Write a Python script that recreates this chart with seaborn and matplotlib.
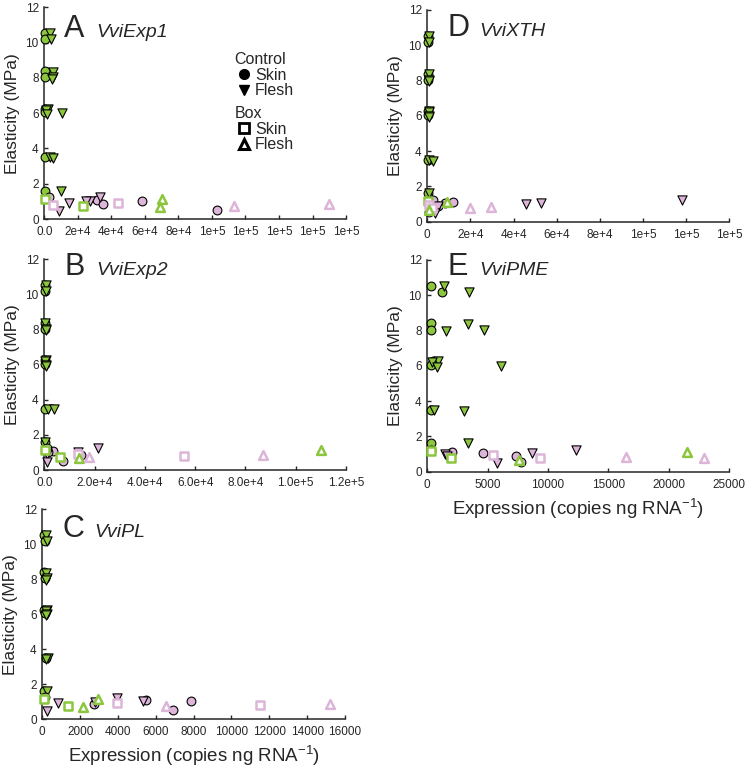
import numpy as np
import pandas as pd
import matplotlib
matplotlib.use('Agg')
import matplotlib.pyplot as plt
from matplotlib.lines import Line2D
import seaborn as sns

sns.set_style('ticks')
plt.rcParams['font.family'] = ['Liberation Sans', 'DejaVu Sans']
plt.rcParams['mathtext.fontset'] = 'custom'
plt.rcParams['mathtext.rm'] = 'Liberation Sans'

green = '#8cc63e'
pink = '#dcb5d8'

# elasticity (MPa) of each sample group, shared by all genes
ctrl_skin_green_y = [10.55, 10.2, 8.4, 8.05, 6.25, 6.05, 3.5, 1.6]
ctrl_flesh_green_y = [10.55, 10.2, 8.35, 8.05, 7.95, 6.25, 6.2, 6.0, 5.95, 3.5, 3.45, 1.6]
ctrl_skin_pink_y = [1.25, 1.1, 1.04, 0.88, 0.53]
ctrl_flesh_pink_y = [1.23, 1.04, 1.0, 0.9, 0.47]
box_skin_green_y = [1.15, 0.75]
box_skin_pink_y = [0.92, 0.8]
box_flesh_green_y = [1.13, 0.68]
box_flesh_pink_y = [0.85, 0.75]

# expression (copies ng RNA-1) per gene, same order as above
exp1_csg = [300, 200, 300, 200, 300, 400, 500, 300]
exp1_cfg = [3400, 4200, 5400, 5000, 4600, 2200, 800, 10300, 1600, 3600, 5200, 9700]
exp1_csp = [2800, 31200, 58000, 35200, 103000]
exp1_cfp = [33200, 27200, 25000, 14700, 8500]
exp1_bsg = [300, 23300]
exp1_bsp = [43700, 5000]
exp1_bfg = [70400, 69000]
exp1_bfp = [170000, 113000]

exp2_csg = [300, 300, 300, 300, 300, 300, 300, 300]
exp2_cfg = [500, 700, 400, 600, 500, 600, 400, 800, 700, 1500, 4000, 300]
exp2_csp = [900, 3300, 1500, 14600, 7600]
exp2_cfp = [21200, 13500, 1200, 1000, 900]
exp2_bsg = [300, 6200]
exp2_bsp = [13500, 55700]
exp2_bfg = [110000, 13800]
exp2_bfp = [86900, 17800]

pl_csg = [100, 150, 100, 150, 100, 150, 200, 100]
pl_cfg = [200, 250, 200, 250, 200, 250, 200, 250, 200, 300, 200, 250]
pl_csp = [150, 5460, 7840, 2750, 6890]
pl_cfp = [3960, 5340, 2800, 850, 230]
pl_bsg = [100, 1370]
pl_bsp = [3960, 11500]
pl_bfg = [2960, 2170]
pl_bfp = [15200, 6520]

xth_csg = [300, 300, 300, 300, 300, 300, 300, 300]
xth_cfg = [800, 900, 800, 900, 800, 900, 800, 900, 800, 1000, 2500, 900]
xth_csp = [2800, 12000, 8200, 5100, 900]
xth_cfp = [118000, 52500, 45700, 5100, 3500]
xth_bsg = [300, 1200]
xth_bsp = [900, 2000]
xth_bfg = [9000, 1000]
xth_bfp = [29400, 20000]

pme_csg = [300, 1200, 300, 300, 500, 300, 300, 300]
pme_cfg = [1400, 3450, 3400, 4700, 1550, 900, 350, 6070, 830, 580, 3060, 3400]
pme_csp = [300, 2070, 4640, 7310, 7730]
pme_cfp = [12280, 8640, 1460, 1600, 5740]
pme_bsg = [300, 1960]
pme_bsp = [5460, 9330]
pme_bfg = [21470, 7590]
pme_bfp = [16450, 22900]

xtick_exp1 = ['0.0', '2e+4', '4e+4', '6e+4', '8e+4', '1e+5', '1e+5', '1e+5', '1e+5', '1e+5']
xtick_exp2 = ['0.0', '2.0e+4', '4.0e+4', '6.0e+4', '8.0e+4', '1.0e+5', '1.2e+5']
xtick_pl = ['0', '2000', '4000', '6000', '8000', '10000', '12000', '14000', '16000']
xtick_xth = ['0', '2e+4', '4e+4', '6e+4', '8e+4', '1e+5', '1e+5', '1e+5']
xtick_pme = ['0', '5000', '10000', '15000', '20000', '25000']
ytick_labels = ['0', '2', '4', '6', '8', '10', '12']

panels = [
    ('A', 'VviExp1', [0.0591, 0.7148, 0.4023, 0.2757], 2e4, xtick_exp1,
     [exp1_csg, exp1_cfg, exp1_csp, exp1_cfp, exp1_bsg, exp1_bsp, exp1_bfg, exp1_bfp], 0.862, False),
    ('B', 'VviExp2', [0.0591, 0.3880, 0.4023, 0.2743], 2e4, xtick_exp2,
     [exp2_csg, exp2_cfg, exp2_csp, exp2_cfp, exp2_bsg, exp2_bsp, exp2_bfg, exp2_bfp], 0.925, False),
    ('C', 'VviPL', [0.0564, 0.0638, 0.4036, 0.2730], 2000, xtick_pl,
     [pl_csg, pl_cfg, pl_csp, pl_cfp, pl_bsg, pl_bsp, pl_bfg, pl_bfp], 0.866, True),
    ('D', 'VviXTH', [0.5697, 0.7113, 0.4027, 0.2757], 2e4, xtick_xth,
     [xth_csg, xth_cfg, xth_csp, xth_cfp, xth_bsg, xth_bsp, xth_bfg, xth_bfp], 0.877, False),
    ('E', 'VviPME', [0.5697, 0.3858, 0.4027, 0.2757], 5000, xtick_pme,
     [pme_csg, pme_cfg, pme_csp, pme_cfp, pme_bsg, pme_bsp, pme_bfg, pme_bfp], 0.93, True),
]

groups_y = [ctrl_skin_green_y, ctrl_flesh_green_y, ctrl_skin_pink_y, ctrl_flesh_pink_y,
            box_skin_green_y, box_skin_pink_y, box_flesh_green_y, box_flesh_pink_y]
# marker, face, edge, linewidth
styles = [('o', green, 'k', 0.8), ('v', green, 'k', 0.8), ('o', pink, 'k', 0.8), ('v', pink, 'k', 0.8),
          ('s', 'white', green, 1.8), ('s', 'white', pink, 1.8), ('^', 'white', green, 1.8), ('^', 'white', pink, 1.8)]

fig = plt.figure(figsize=(7.5, 7.68), dpi=100)

for letter, gene, rect, step, xlabels, xs, ty, with_xlabel in panels:
    ax = fig.add_axes(rect)
    for x, y, (m, fc, ec, lw) in zip(xs, groups_y, styles):
        sns.scatterplot(x=x, y=y, marker=m, color=fc, edgecolor=ec, linewidth=lw,
                        s=40 if m != 'v' else 44, ax=ax, clip_on=False, zorder=3, legend=False)
    xt = np.arange(len(xlabels)) * step
    ax.set_xlim(0, xt[-1])
    ax.set_ylim(0, 12)
    ax.set_xticks(xt)
    ax.set_xticklabels(xlabels, fontsize=8.5)
    ax.set_yticks(np.arange(0, 13, 2))
    ax.set_yticklabels(ytick_labels, fontsize=8.5)
    ax.tick_params(direction='in', length=3, width=1)
    ax.tick_params(axis='x', pad=5)
    ax.tick_params(axis='y', pad=4)
    sns.despine(ax=ax)
    for sp in ['left', 'bottom']:
        ax.spines[sp].set_linewidth(1.1)
    ax.set_ylabel('Elasticity (MPa)', fontsize=12.5, labelpad=4)
    if with_xlabel:
        ax.set_xlabel('Expression (copies ng RNA$^{-1}$)', fontsize=13.5, labelpad=4)
    ax.text(0.066, ty, letter, transform=ax.transAxes, fontsize=22)
    ax.text(0.172, ty, gene, transform=ax.transAxes, fontsize=14, style='italic')

    if letter == 'A':
        h1 = [Line2D([], [], marker='o', ls='', color='k', markersize=7),
              Line2D([], [], marker='v', ls='', color='k', markersize=7)]
        h2 = [Line2D([], [], marker='s', ls='', color='k', mfc='white', mew=2, markersize=6.5),
              Line2D([], [], marker='^', ls='', color='k', mfc='white', mew=2.2, markersize=7)]
        leg1 = ax.legend(h1, ['Skin', 'Flesh'], title='Control', loc='upper left',
                         bbox_to_anchor=(0.63, 0.79), frameon=False, fontsize=11.5,
                         title_fontsize=11.5, handlelength=1.2, handletextpad=0.1,
                         labelspacing=0.05, borderpad=0, borderaxespad=0, alignment='left')
        ax.add_artist(leg1)
        ax.legend(h2, ['Skin', 'Flesh'], title='Box', loc='upper left',
                  bbox_to_anchor=(0.63, 0.535), frameon=False, fontsize=11.5,
                  title_fontsize=11.5, handlelength=1.2, handletextpad=0.1,
                  labelspacing=0.05, borderpad=0, borderaxespad=0, alignment='left')

fig.savefig('out.png', dpi=100)
